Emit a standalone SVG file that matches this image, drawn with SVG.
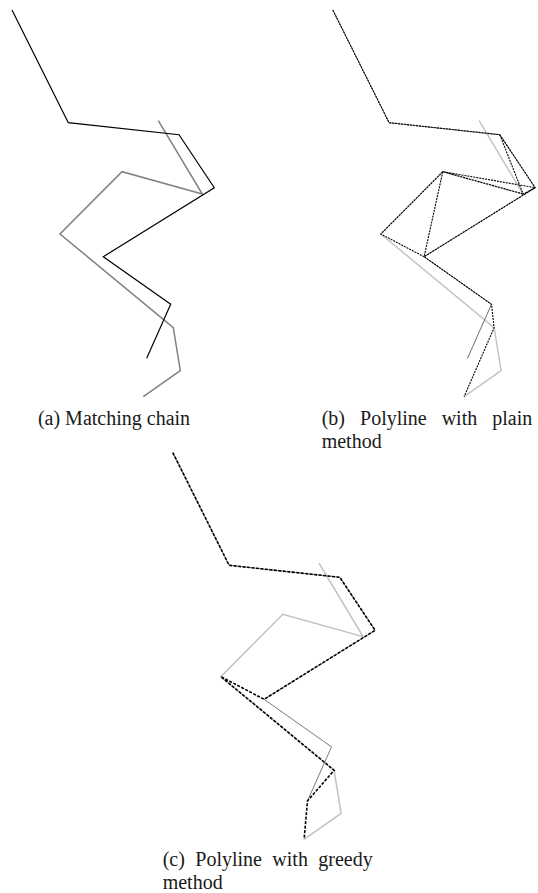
<svg xmlns="http://www.w3.org/2000/svg" xmlns:xlink="http://www.w3.org/1999/xlink" width="538" height="893" viewBox="0 0 538 893">
<style>
  .cap { font-family: "Liberation Serif", "Times New Roman", serif; font-size: 20px; fill: #1a1a1a; }
  polyline, path { fill: none; stroke-linejoin: miter; }
  .a-black { stroke: #000; stroke-width: 1.2; }
  .a-gray { stroke: #808080; stroke-width: 1.5; }
  .b-chainA { stroke: #6e6e6e; stroke-width: 1; }
  .b-chainB { stroke: #c4c4c4; stroke-width: 1.5; }
  .b-dash { stroke: #000; stroke-width: 1.1; stroke-dasharray: 2 1; }
  .c-chainA { stroke: #7a7a7a; stroke-width: 1; }
  .c-chainB { stroke: #c0c0c0; stroke-width: 1.5; }
  .c-dash { stroke: #000; stroke-width: 1.6; stroke-dasharray: 3 1.5; }
</style>
<defs>
  <polyline id="chainA" points="12,10 68.3,122.7 179,134.7 214.3,187.7 103.3,256.7 170.7,304.3 146.7,358.3"/>
  <polyline id="chainB" points="158.3,120.7 202.3,194 122,171.7 60,234 173.3,327.7 180.3,370.7 143.3,396.7"/>
</defs>

<g id="panel-a">
  <use xlink:href="#chainB" class="a-gray"/>
  <use xlink:href="#chainA" class="a-black"/>
  <text class="cap" x="114" y="425" text-anchor="middle">(a) Matching chain</text>
</g>

<g id="panel-b">
  <g transform="translate(320.8,0)">
    <use xlink:href="#chainB" class="b-chainB"/>
    <use xlink:href="#chainA" class="b-chainA"/>
    <g id="connectors-b">
      <path class="b-dash" d="M12,10 L68.3,122.7 L179,134.7 L214.3,187.7 L103.3,256.7 L170.7,304.3 L173.3,327.7 L143.3,396.7"/>
      <path class="b-dash" d="M179,134.7 L202.3,194 L214.3,187.7 L122,171.7 L202.3,194"/>
      <path class="b-dash" d="M122,171.7 L103.3,256.7"/>
      <path class="b-dash" d="M122,171.7 L60,234 L103.3,256.7"/>
    </g>
  </g>
  <text class="cap" x="321.7" y="425" word-spacing="10">(b) Polyline with plain</text>
  <text class="cap" x="321.7" y="447.5">method</text>
</g>

<g id="panel-c">
  <g transform="translate(160.8,442.6)">
    <use xlink:href="#chainB" class="c-chainB"/>
    <use xlink:href="#chainA" class="c-chainA"/>
    <g id="connectors-c">
      <path class="c-dash" d="M12,10 L68.3,122.7 L179,134.7 L214.3,187.7 L103.3,256.7 L60,234 L173.3,327.7 L146.7,358.3 L143.3,396.7"/>
    </g>
  </g>
  <text class="cap" x="162.7" y="866" word-spacing="5.4">(c) Polyline with greedy</text>
  <text class="cap" x="162.7" y="888.5">method</text>
</g>
</svg>
